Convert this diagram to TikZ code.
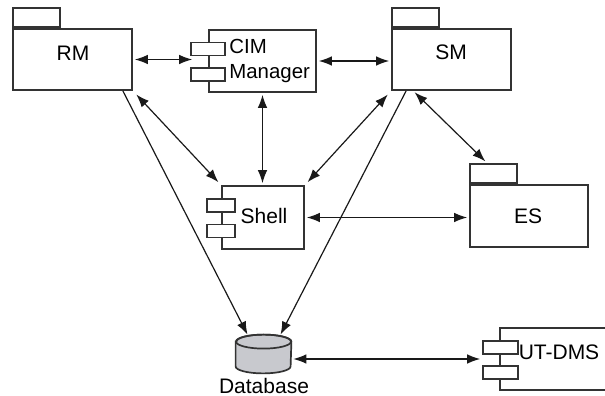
\documentclass[tikz,border=0pt]{standalone}
\usepackage{fontspec}
\setmainfont{Liberation Sans}
\usetikzlibrary{arrows.meta}
\tikzset{>={Latex[length=6.5pt,width=4.8pt]}}
\definecolor{dbgray}{RGB}{200,201,206}
\tikzset{
  pkg/.style={draw=black!80, line width=0.85pt, fill=white, inner sep=0pt},
  tabbox/.style={pkg, minimum width=23.5pt, minimum height=9.5pt, anchor=south west},
  plug/.style={pkg, minimum width=17pt, minimum height=6.5pt},
  lbl/.style={font=\fontsize{10.5}{12.5}\selectfont, inner sep=0pt},
  link/.style={<->, line width=0.6pt, draw=black!90, shorten <=1pt, shorten >=1pt},
  uses/.style={->, line width=0.6pt, draw=black!90},
}

\begin{document}
\begin{tikzpicture}[x=0.5pt, y=0.5pt]
\useasboundingbox (0,0) rectangle (605,396);

% packages
\node[pkg, minimum width=59.5pt, minimum height=30.5pt] (rm) at (72.5,336.5) {};
\node[tabbox] (rmtab) at (rm.north west) {};
\node[lbl] (rmname) at (73,343) {RM};

\node[pkg, minimum width=59.5pt, minimum height=30.5pt] (sm) at (451.5,336.5) {};
\node[tabbox] (smtab) at (sm.north west) {};
\node[lbl] (smname) at (451,344) {SM};

\node[pkg, minimum width=59pt, minimum height=31pt] (es) at (529,180) {};
\node[tabbox] (estab) at (es.north west) {};
\node[lbl] (esname) at (528,180) {ES};

% components
\node[pkg, minimum width=53.5pt, minimum height=31pt] (cim) at (262.5,335) {};
\node[plug] (cimA) at (208,347) {};
\node[plug] (cimB) at (208,321.5) {};
\node[lbl, font=\fontsize{10.2}{12.5}\selectfont, align=left, anchor=west] (cimname) at (229,335.5) {CIM\\Manager};

\node[pkg, minimum width=41pt, minimum height=31.5pt] (shell) at (263,178.5) {};
\node[plug, minimum width=14pt] (shellA) at (221,190.5) {};
\node[plug, minimum width=14pt] (shellB) at (221,165) {};
\node[lbl] (shellname) at (264,180) {Shell};

\node[pkg, minimum width=60pt, minimum height=31pt] (utdms) at (560,37) {};
\node[plug, minimum width=17.5pt] (utdmsA) at (500.5,48.5) {};
\node[plug, minimum width=17.5pt] (utdmsB) at (500.5,23.5) {};
\node[lbl] (utdmsname) at (559,44) {UT-DMS};

% database
\node[inner sep=0pt, minimum width=27.5pt, minimum height=19pt] (db) at (263.5,42) {};
\filldraw[fill=dbgray, draw=black!80, line width=0.85pt]
  ([yshift=-3.5pt]db.north west) -- ([yshift=3.5pt]db.south west)
  arc[start angle=180, end angle=360, x radius=13.75pt, y radius=3.5pt]
  -- ([yshift=-3.5pt]db.north east)
  arc[start angle=0, end angle=180, x radius=13.75pt, y radius=3.5pt] -- cycle;
\draw[black!80, line width=0.85pt] ([yshift=-3.5pt]db.north) ellipse[x radius=13.75pt, y radius=3.5pt];
\node[lbl] (dbname) at (264,10) {Database};

% connectors
\draw[link, shorten >=-1pt] (rm.east) -- (cimA.west |- rm.east);
\draw[link] (cim.east) -- (cim.east -| sm.west);
\draw[link] (cim.south) -- (cim.south |- shell.north);
\draw[link, shorten <=2.5pt, shorten >=2pt] (rm.south east) -- (shell.north west);
\draw[link, shorten <=2.5pt, shorten >=2pt] (sm.south west) -- (shell.north east);
\draw[link, shorten >=1.5pt] ([xshift=11pt]sm.south west) -- ([xshift=-3pt]estab.north);
\draw[link] (shell.east) -- (shell.east -| es.west);
\draw[uses] ([xshift=-5pt]rm.south east) -- ([xshift=-8pt]db.north);
\draw[uses] ([xshift=7.5pt]sm.south west) -- ([xshift=8.5pt]db.north);
\coordinate (dbport) at ([yshift=-2.5pt]db.east);
\draw[link] (dbport) -- (dbport -| utdmsA.west);
\end{tikzpicture}
\end{document}
